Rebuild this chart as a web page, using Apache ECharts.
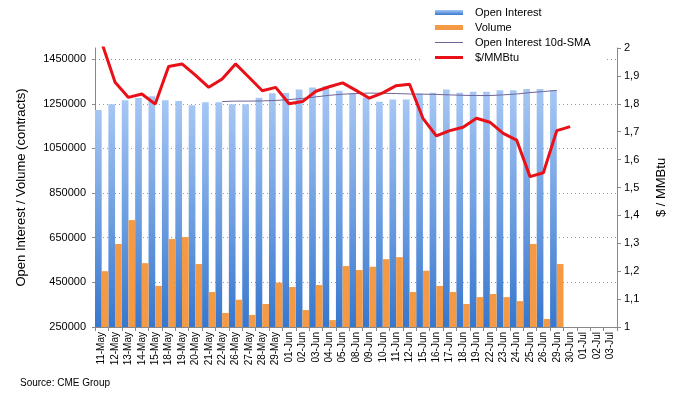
<!DOCTYPE html>
<html>
<head>
<meta charset="utf-8" />
<title>Open Interest / Volume</title>
<script src="https://cdn.jsdelivr.net/npm/echarts@6/dist/echarts.min.js"></script>
<style>
  html, body { margin: 0; padding: 0; background: #fff; }
  #chart { width: 678px; height: 398px; }
</style>
</head>
<body>
<div id="chart"></div>
<script>
// dates on the x axis
var categories = ['11-May','12-May','13-May','14-May','15-May','18-May','19-May','20-May','21-May','22-May',
  '26-May','27-May','28-May','29-May','01-Jun','02-Jun','03-Jun','04-Jun','05-Jun','08-Jun',
  '09-Jun','10-Jun','11-Jun','12-Jun','15-Jun','16-Jun','17-Jun','18-Jun','19-Jun','22-Jun',
  '23-Jun','24-Jun','25-Jun','26-Jun','29-Jun','30-Jun','01-Jul','02-Jul','03-Jul'];

// contracts
var openInterest = [1222000,1248000,1266000,1276000,1284000,1266000,1262000,1244000,1257000,1257000,
  1248000,1248000,1277000,1297000,1298000,1314000,1323000,1329000,1308000,1296000,
  1278000,1259000,1269000,1269000,1296000,1299000,1314000,1299000,1304000,1304000,
  1311000,1311000,1316000,1316000,1311000];
var volume = [500000,622000,729000,536000,434000,644000,653000,532000,407000,313000,
  372000,304000,353000,449000,429000,326000,438000,281000,523000,505000,
  520000,554000,563000,407000,502000,434000,407000,353000,384000,398000,
  384000,366000,622000,286000,532000];
var oiSma = [null,null,null,null,null,null,null,null,null,1260000,
  1262000,1262000,1263000,1265000,1269000,1274000,1281000,1288000,1293000,1296000,
  1298000,1297000,1296000,1294000,1293000,1292000,1290000,1288000,1287000,1287000,
  1290000,1294000,1300000,1305000,1310000];
// $/MMBtu
var price = [2.02,1.877,1.823,1.835,1.799,1.934,1.943,1.903,1.859,1.889,
  1.943,1.895,1.847,1.859,1.800,1.808,1.845,1.861,1.875,1.848,
  1.820,1.839,1.865,1.870,1.748,1.685,1.704,1.716,1.748,1.734,
  1.694,1.670,1.539,1.553,1.704,1.718];

var leftTicks = [250000,450000,650000,850000,1050000,1250000,1450000];

var font = 'Liberation Sans, Arial, sans-serif';
var chart = echarts.init(document.getElementById('chart'));

// legend icons: the extra move-to points keep the box 28x5 so the bar inside keeps its thickness
var thinLine = 'path://M0,0M28,5M0,2H28V3H0Z';
var thickLine = 'path://M0,0M28,5M0,1H28V4H0Z';

var option = {
  backgroundColor: '#fff',
  animation: false,
  textStyle: { fontFamily: font, color: '#000' },
  grid: { left: 95, right: 61, top: 48, bottom: 71 },
  legend: {
    orient: 'vertical',
    left: 420,
    top: 0,
    padding: [7, 15, 6, 15],
    backgroundColor: '#fff',
    itemWidth: 28,
    itemHeight: 5,
    itemGap: 4,
    textStyle: { fontSize: 11, lineHeight: 11, color: '#000', padding: [0, 0, 0, 7] },
    data: [
      { name: 'Open Interest', icon: 'rect' },
      { name: 'Volume', icon: 'rect' },
      { name: 'Open Interest 10d-SMA', icon: thinLine },
      { name: '$/MMBtu', icon: thickLine }
    ]
  },
  graphic: [{
    type: 'text', left: 20, top: 378,
    style: { text: 'Source: CME Group', fontSize: 10, fontFamily: font, fill: '#000' }
  }],
  xAxis: {
    type: 'category',
    data: categories,
    boundaryGap: true,
    axisLine: { lineStyle: { color: '#888' } },
    axisTick: { show: true, length: 4, lineStyle: { color: '#888' } },
    axisLabel: { interval: 0, rotate: 90, fontSize: 10, color: '#000', margin: 5 }
  },
  yAxis: [{
    type: 'value',
    min: 250000,
    max: 1500000,
    name: 'Open Interest / Volume (contracts)',
    nameLocation: 'middle',
    nameRotate: 90,
    nameGap: 67,
    nameTextStyle: { fontSize: 13, color: '#000' },
    axisLine: { show: true, lineStyle: { color: '#888' } },
    axisTick: { show: true, length: 3, customValues: leftTicks, lineStyle: { color: '#888' } },
    axisLabel: {
      customValues: leftTicks, fontSize: 11, color: '#000', margin: 9,
      formatter: function (v) { return String(v); }
    },
    splitLine: { show: true, lineStyle: { color: '#999', type: [1, 3] } }
  }, {
    type: 'value',
    min: 1,
    max: 2,
    interval: 0.1,
    position: 'right',
    name: '$ / MMBtu',
    nameLocation: 'middle',
    nameRotate: 90,
    nameGap: 38,
    nameTextStyle: { fontSize: 13, color: '#000' },
    axisLine: { show: true, lineStyle: { color: '#888' } },
    axisTick: { show: true, length: 4, lineStyle: { color: '#888' } },
    axisLabel: {
      fontSize: 11, color: '#000', margin: 7,
      formatter: function (v) { return String(+v.toFixed(1)).replace('.', ','); }
    },
    splitLine: { show: false }
  }],
  series: [{
    name: 'Open Interest',
    type: 'bar',
    data: openInterest,
    barGap: '0%',
    barCategoryGap: '0%',
    itemStyle: {
      color: new echarts.graphic.LinearGradient(0, 0, 0, 1, [
        { offset: 0, color: '#a6c7f4' },
        { offset: 1, color: '#3777ce' }
      ])
    }
  }, {
    name: 'Volume',
    type: 'bar',
    data: volume,
    itemStyle: { color: '#f59a44' }
  }, {
    name: 'Open Interest 10d-SMA',
    type: 'line',
    data: oiSma,
    symbol: 'none',
    lineStyle: { color: '#6f6498', width: 1 },
    itemStyle: { color: '#6f6498' },
    z: 3
  }, {
    name: '$/MMBtu',
    type: 'line',
    yAxisIndex: 1,
    data: price,
    symbol: 'none',
    lineStyle: { color: '#ea1018', width: 3 },
    itemStyle: { color: '#ea1018' },
    z: 4
  }]
};
chart.setOption(option);
</script>
</body>
</html>
